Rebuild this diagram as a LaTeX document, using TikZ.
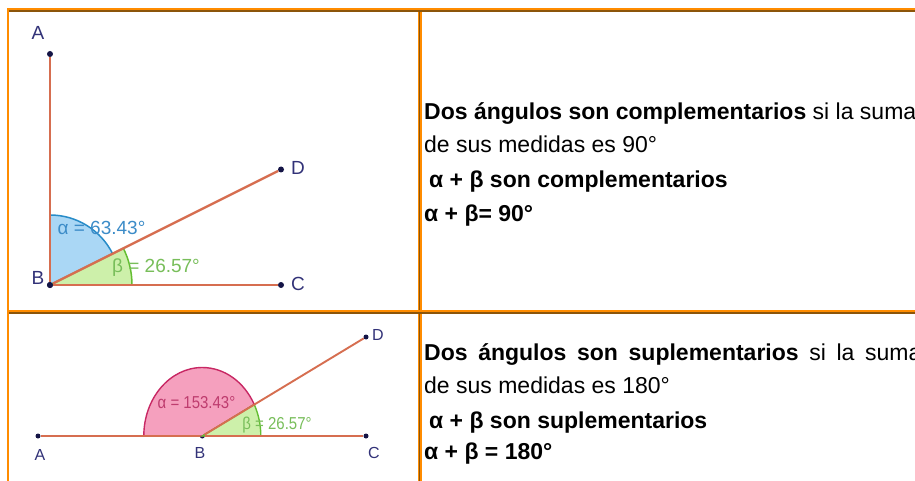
\documentclass[tikz,border=0pt]{standalone}
\usepackage{fontspec}
\setmainfont{Liberation Sans}
\usepackage{graphicx}
\definecolor{tborange}{RGB}{255,140,0}
\definecolor{tbbrown}{RGB}{140,85,10}
\definecolor{seg}{RGB}{214,110,80}
\definecolor{ptcol}{RGB}{20,20,70}
\definecolor{labcol}{RGB}{50,50,120}
\definecolor{afill}{RGB}{170,215,245}
\definecolor{aline}{RGB}{40,140,200}
\definecolor{atext}{RGB}{60,140,200}
\definecolor{bfill}{RGB}{205,240,170}
\definecolor{bline}{RGB}{100,190,50}
\definecolor{btext}{RGB}{120,190,90}
\definecolor{pfill}{RGB}{245,160,190}
\definecolor{pline}{RGB}{200,40,100}
\definecolor{ptext}{RGB}{190,60,110}
\tikzset{
  segline/.style={draw=seg, line width=2.3pt},
  segthin/.style={draw=seg, line width=1.9pt},
  dot/.style={circle, fill=ptcol, inner sep=0pt, minimum size=6pt},
  dotsm/.style={circle, fill=ptcol, inner sep=0pt, minimum size=5pt},
  ptlab/.style={text=labcol, inner sep=0pt, font=\fontsize{19}{19}\selectfont},
  ptlabsm/.style={text=labcol, inner sep=0pt, font=\fontsize{16}{16}\selectfont},
  anglab/.style={inner sep=0pt, font=\fontsize{19}{19}\selectfont},
  anglabsm/.style={inner sep=0pt, font=\fontsize{15}{15}\selectfont},
  bodytext/.style={anchor=base west, inner sep=0pt, font=\fontsize{23}{27}\selectfont},
}
\begin{document}
\begin{tikzpicture}[x=1pt,y=-1pt]
\useasboundingbox (0,0) rectangle (915,481);
\clip (0,0) rectangle (915,481);
\fill[white] (0,0) rectangle (915,481);

% ---------- top-left figure ----------
\node[dot] (A1) at (50,54) {};
\node[dot] (B1) at (50,285) {};
\node[dot] (C1) at (281,285) {};
\node[dot] (D1) at (281,169.5) {};
\filldraw[fill=afill, draw=aline, line width=1.5pt] (B1.center) -- ++(90:70pt) arc[start angle=90, end angle=26.57, radius=70pt] -- cycle;
\filldraw[fill=bfill, draw=bline, line width=1.5pt] (B1.center) -- ++(0:82pt) arc[start angle=0, end angle=26.57, radius=82pt] -- cycle;
\draw[segline] (B1) -- (A1);
\draw[segline] (B1) -- (C1);
\draw[segline] (B1) -- (D1);
\node[dot] at (B1.center) {};
\node[ptlab] (LA1) at (38,33) {A};
\node[ptlab] (LB1) at (38,278) {B};
\node[ptlab] (LC1) at (298,284) {C};
\node[ptlab] (LD1) at (298,168) {D};
\node[anglab, text=atext] (al1) at (101.5,228) {α = 63.43°};
\node[anglab, text=btext] (be1) at (156,268) {β = 26.57°};

% ---------- bottom-left figure ----------
\node[dotsm] (A2) at (38,436) {};
\node[dotsm] (B2) at (202.3,436) {};
\node[dotsm] (C2) at (366,436) {};
\node[dotsm] (D2) at (366,337) {};
\filldraw[fill=pfill, draw=pline, line width=1.4pt] (B2.center) -- ++(180:58.5pt) arc[start angle=180, end angle=27.36, x radius=58.5pt, y radius=68.5pt] -- cycle;
\filldraw[fill=bfill, draw=bline, line width=1.4pt] (B2.center) -- ++(0:58.5pt) arc[start angle=0, end angle=27.36, x radius=58.5pt, y radius=68.5pt] -- cycle;
\draw[segthin] (A2) -- (B2);
\draw[segthin] (B2) -- (C2);
\draw[segthin] (B2) -- (D2);
\node[ptlabsm] (LA2) at (40,455) {A};
\node[ptlabsm] (LB2) at (200,453) {B};
\node[ptlabsm] (LC2) at (374,453) {C};
\node[ptlabsm] (LD2) at (378,335) {D};
\node[anglabsm, text=ptext] (al2) at (196.5,403) {\scalebox{1}[1.15]{α = 153.43°}};
\node[anglabsm, text=btext] (be2) at (277,425) {\scalebox{1}[1.15]{β = 26.57°}};

% ---------- right column text ----------
\node[bodytext] (t1) at (424,120) {\textbf{Dos ángulos son complementarios} si la suma};
\node[bodytext] (t2) at (424,153) {de sus medidas es 90°};
\node[bodytext] (t3) at (429,188) {\textbf{α + β son complementarios}};
\node[bodytext] (t4) at (424,221) {\textbf{α + β= 90°}};
\node[bodytext] (u1) at (424,360) {\makebox[441pt][s]{\textbf{Dos ángulos son suplementarios} si la }suma};
\node[bodytext] (u2) at (424,393) {de sus medidas es 180°};
\node[bodytext] (u3) at (429,428) {\textbf{α + β son suplementarios}};
\node[bodytext] (u4) at (424,459) {\textbf{α + β = 180°}};

% ---------- table borders ----------
\fill[tborange] (7,8) rectangle (915,10);
\fill[tbbrown] (7,10) rectangle (915,12);
\fill[tborange] (7,8) rectangle (9,481);
\fill[tborange] (418,12) rectangle (419,481);
\fill[tbbrown] (419,12) rectangle (420,481);
\fill[tborange] (420,12) rectangle (421.5,481);
\fill[tborange] (9,310) rectangle (915,312);
\fill[tbbrown] (9,312) rectangle (915,314);
\end{tikzpicture}
\end{document}
